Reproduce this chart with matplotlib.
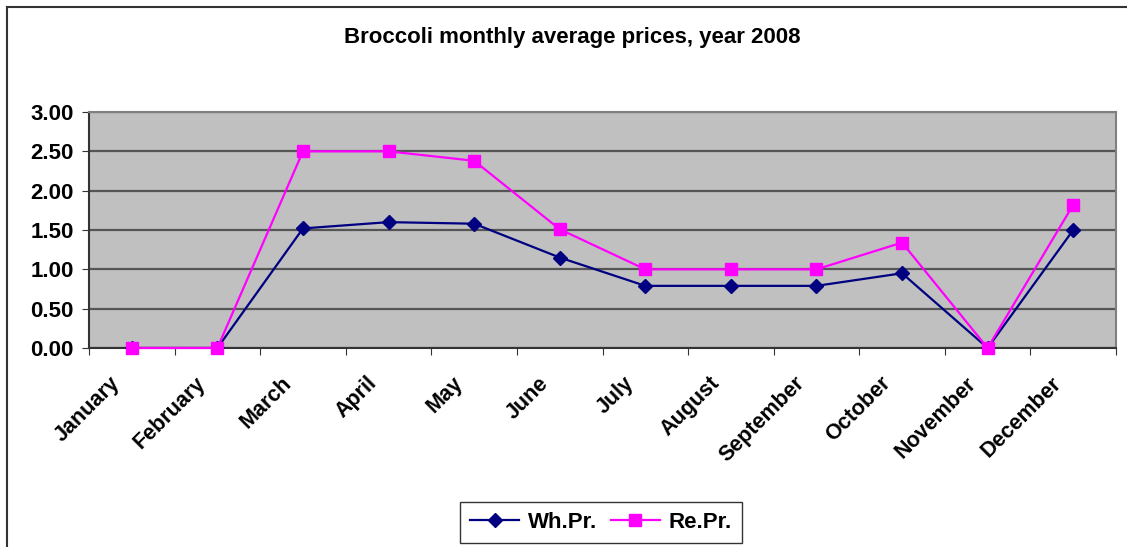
import numpy as np
import matplotlib
matplotlib.use("Agg")
import matplotlib.pyplot as plt
from matplotlib.lines import Line2D
from matplotlib.transforms import ScaledTranslation

# === Data ===
months = ["January", "February", "March", "April", "May", "June", "July",
          "August", "September", "October", "November", "December"]
wh_pr = [0.00, 0.00, 1.52, 1.60, 1.58, 1.15, 0.79, 0.79, 0.79, 0.95, 0.00, 1.50]
re_pr = [0.00, 0.00, 2.50, 2.50, 2.38, 1.51, 1.00, 1.00, 1.00, 1.34, 0.00, 1.82]
y_ticks = [0.0, 0.5, 1.0, 1.5, 2.0, 2.5, 3.0]

plt.rcParams['font.family'] = ['Liberation Sans', 'DejaVu Sans']
plt.rcParams['font.weight'] = 'bold'

W, H = 1127, 547
fig = plt.figure(figsize=(W / 100, H / 100), dpi=100)
ax = fig.add_axes([89 / W, 1 - 348 / H, (1116 - 89) / W, (348 - 112) / H])
ax.set_facecolor("#C0C0C0")

x = np.arange(len(months))
ax.plot(x, wh_pr, color="#000080", marker="D", markersize=7, linewidth=1.6,
        label="Wh.Pr.", zorder=3)
ax.plot(x, re_pr, color="#FF00FF", marker="s", markersize=9, linewidth=1.6,
        label="Re.Pr.", zorder=4, clip_on=False)

# axes, ticks, grid
ax.set_xlim(-0.5, len(months) - 0.5)
ax.set_ylim(0, 3)
ax.set_yticks(y_ticks)
ax.set_yticklabels([f"{v:.2f}" for v in y_ticks], fontsize=16, fontweight="bold")
ax.set_xticks(np.arange(-0.5, len(months), 1))
ax.set_xticklabels([])
ax.set_xticks(x, minor=True)
ax.set_xticklabels(months, minor=True, rotation=45, ha="right",
                   rotation_mode="anchor", fontsize=15.5, fontweight="bold")
ax.tick_params(axis="x", which="minor", length=0, pad=20)
ax.tick_params(axis="x", which="major", length=5, direction="out", color="#333333")
ax.tick_params(axis="y", length=5, direction="out", color="#333333", pad=6)
# nudge month labels left like the original
shift = ScaledTranslation(-22 / 100, 3 / 100, fig.dpi_scale_trans)
for lbl in ax.get_xticklabels(minor=True):
    lbl.set_transform(lbl.get_transform() + shift)
ax.yaxis.grid(True, color="#555555", linewidth=1.6)
ax.set_axisbelow(True)
for side in ["left", "bottom"]:
    ax.spines[side].set_color("#333333")
    ax.spines[side].set_linewidth(1.5)
for side in ["top", "right"]:
    ax.spines[side].set_color("#808080")
    ax.spines[side].set_linewidth(1.5)

# title
fig.text(572 / W, 1 - 38 / H, "Broccoli monthly average prices, year 2008",
         ha="center", va="center", fontsize=16, fontweight="bold")

# legend
leg = fig.legend(loc="center", bbox_to_anchor=(601 / W, 1 - 522 / H), ncol=2,
                 fancybox=False, edgecolor="black", fontsize=16,
                 handlelength=2.2, columnspacing=0.6, handletextpad=0.4,
                 borderpad=0.45)
leg.get_frame().set_linewidth(1.0)
for t in leg.get_texts():
    t.set_fontweight("bold")

# outer chart border
fig.add_artist(Line2D([7 / W, 7 / W], [0, 1 - 7 / H], color="#333333", linewidth=1.5))
fig.add_artist(Line2D([7 / W, 1], [1 - 7 / H, 1 - 7 / H], color="#333333", linewidth=1.5))

fig.savefig("out.png", dpi=100)
